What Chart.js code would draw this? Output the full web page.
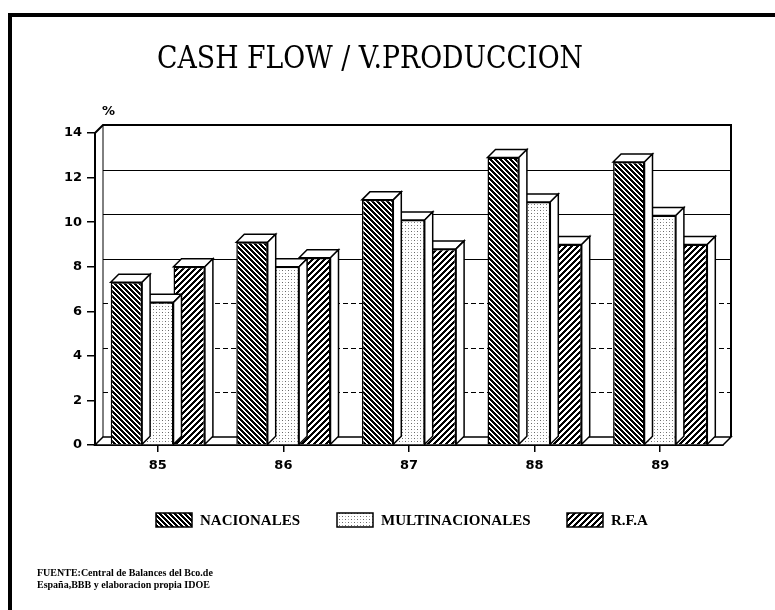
<!DOCTYPE html>
<html>
<head>
<meta charset="utf-8">
<script src="https://cdn.jsdelivr.net/npm/chart.js@4.4.1/dist/chart.umd.min.js"></script>
<style>
  html, body { margin: 0; padding: 0; background: #fff; }
  #wrap { width: 775px; height: 610px; position: relative; }
</style>
</head>
<body>
<div id="wrap"><canvas id="chart" width="775" height="610"></canvas></div>
<script>
// datos
const years = ['85', '86', '87', '88', '89'];
const nacionales = [7.3, 9.1, 11.0, 12.9, 12.7];
const multinacionales = [6.4, 8.0, 10.1, 10.9, 10.3];
const rfa = [8.0, 8.4, 8.8, 9.0, 9.0];
const yTicks = [0, 2, 4, 6, 8, 10, 12, 14];
const seriesNames = ['NACIONALES', 'MULTINACIONALES', 'R.F.A'];

const DEPTH = 8;

// patrones de relleno (pixel a pixel para que queden nitidos)
function hatch(s, w, forward) {
    const c = document.createElement('canvas');
    c.width = s; c.height = s;
    const g = c.getContext('2d');
    g.fillStyle = '#fff';
    g.fillRect(0, 0, s, s);
    g.fillStyle = '#000';
    for (let y = 0; y < s; y++) {
        for (let x = 0; x < s; x++) {
            const k = forward ? (x + y) % s : ((x - y) % s + s) % s;
            if (k < w) g.fillRect(x, y, 1, 1);
        }
    }
    return g.createPattern(c, 'repeat');
}
function dots() {
    const c = document.createElement('canvas');
    c.width = 6; c.height = 6;
    const g = c.getContext('2d');
    g.fillStyle = '#fff';
    g.fillRect(0, 0, 6, 6);
    g.fillStyle = '#666';
    g.fillRect(0, 0, 1, 1);
    g.fillRect(3, 3, 1, 1);
    g.fillStyle = '#aaa';
    g.fillRect(3, 0, 1, 1);
    g.fillRect(0, 3, 1, 1);
    return g.createPattern(c, 'repeat');
}
const fills = [hatch(5, 3, false), dots(), hatch(6, 3, true)];

// plugin: pared del fondo, suelo y caras 3D
const threeD = {
    id: 'threeD',
    beforeDatasetsDraw(chart) {
        const { ctx, chartArea: a, scales } = chart;
        const d = DEPTH;
        ctx.save();
        // pared del fondo
        ctx.strokeStyle = '#000';
        ctx.lineWidth = 1;
        yTicks.forEach(v => {
            if (v === 0) return;
            const y = Math.round(scales.y.getPixelForValue(v)) - d + 0.5;
            ctx.setLineDash(v < 8 ? [5, 3] : []);
            ctx.beginPath();
            ctx.moveTo(a.left + d, y);
            ctx.lineTo(a.right + d, y);
            ctx.stroke();
        });
        ctx.setLineDash([]);
        ctx.lineWidth = 2;
        ctx.beginPath();
        ctx.moveTo(a.left, a.top);
        ctx.lineTo(a.left + d, a.top - d);
        ctx.lineTo(a.right + d, a.top - d);
        ctx.lineTo(a.right + d, a.bottom - d);
        ctx.stroke();
        ctx.lineWidth = 1;
        ctx.beginPath();
        ctx.moveTo(a.left + d, a.top - d);
        ctx.lineTo(a.left + d, a.bottom - d);
        ctx.stroke();
        // suelo
        ctx.fillStyle = '#fff';
        ctx.lineWidth = 1.5;
        ctx.beginPath();
        ctx.moveTo(a.left, a.bottom);
        ctx.lineTo(a.left + d, a.bottom - d);
        ctx.lineTo(a.right + d, a.bottom - d);
        ctx.lineTo(a.right, a.bottom);
        ctx.closePath();
        ctx.fill();
        ctx.stroke();
        ctx.restore();
    },
    afterDatasetDraw(chart, args) {
        const { ctx } = chart;
        const d = DEPTH;
        const meta = chart.getDatasetMeta(args.index);
        ctx.save();
        ctx.strokeStyle = '#000';
        ctx.lineWidth = 1.5;
        ctx.fillStyle = '#fff';
        meta.data.forEach(bar => {
            const p = bar.getProps(['x', 'y', 'base', 'width'], true);
            const l = p.x - p.width / 2, r = p.x + p.width / 2;
            // cara superior
            ctx.beginPath();
            ctx.moveTo(l, p.y);
            ctx.lineTo(l + d, p.y - d);
            ctx.lineTo(r + d, p.y - d);
            ctx.lineTo(r, p.y);
            ctx.closePath();
            ctx.fill(); ctx.stroke();
            // cara lateral
            ctx.beginPath();
            ctx.moveTo(r, p.y);
            ctx.lineTo(r + d, p.y - d);
            ctx.lineTo(r + d, p.base - d);
            ctx.lineTo(r, p.base);
            ctx.closePath();
            ctx.fill(); ctx.stroke();
        });
        ctx.restore();
    }
};

// plugin: titulo, leyenda, fuente y marco
const decor = {
    id: 'decor',
    beforeDraw(chart) {
        const { ctx } = chart;
        ctx.save();
        ctx.fillStyle = '#fff';
        ctx.fillRect(0, 0, chart.width, chart.height);
        ctx.restore();
    },
    afterDraw(chart) {
        const { ctx } = chart;
        ctx.save();
        // marco
        ctx.strokeStyle = '#000';
        ctx.lineWidth = 4;
        ctx.beginPath();
        ctx.moveTo(10, 610);
        ctx.lineTo(10, 15);
        ctx.lineTo(775, 15);
        ctx.stroke();
        // titulo
        ctx.fillStyle = '#000';
        ctx.textBaseline = 'alphabetic';
        ctx.textAlign = 'left';
        ctx.font = '31px "DejaVu Serif", "Liberation Serif", serif';
        ctx.fillText('CASH FLOW / V.PRODUCCION', 157, 68, 426);
        // simbolo %
        ctx.font = 'bold 13px "DejaVu Sans", sans-serif';
        ctx.fillText('%', 102, 115);
        // leyenda
        const sw = [156, 337, 567];
        const tw = [103, 150, 42];
        ctx.font = 'bold 15px "Liberation Serif", serif';
        ctx.textBaseline = 'middle';
        seriesNames.forEach((name, i) => {
            ctx.fillStyle = fills[i];
            ctx.fillRect(sw[i], 513, 36, 14);
            ctx.lineWidth = 1.5;
            ctx.strokeRect(sw[i], 513, 36, 14);
            ctx.fillStyle = '#000';
            ctx.fillText(name, sw[i] + 44, 521, tw[i]);
        });
        // fuente
        ctx.font = 'bold 10px "Liberation Serif", serif';
        ctx.textBaseline = 'alphabetic';
        ctx.fillText('FUENTE:Central de Balances del Bco.de', 37, 576, 232);
        ctx.fillText('España,BBB y elaboracion propia IDOE', 37, 588, 232);
        ctx.restore();
    }
};

const ctx = document.getElementById('chart').getContext('2d');
const chart = new Chart(ctx, {
    type: 'bar',
    data: {
        labels: years,
        datasets: [nacionales, multinacionales, rfa].map((vals, i) => ({
            label: seriesNames[i],
            data: vals,
            backgroundColor: fills[i],
            borderColor: '#000',
            borderWidth: 1.5,
            borderSkipped: 'bottom',
            categoryPercentage: 0.75,
            barPercentage: 1.0
        }))
    },
    options: {
        responsive: false,
        animation: false,
        layout: { padding: { top: 133, right: 52, left: 0, bottom: 0 } },
        plugins: {
            legend: { display: false },
            tooltip: { enabled: false },
            title: { display: false }
        },
        scales: {
            x: {
                afterFit(scale) { scale.height = 165; },
                grid: {
                    offset: false,
                    drawOnChartArea: false,
                    drawTicks: true,
                    tickLength: 7,
                    color: '#000',
                    lineWidth: 1.5
                },
                border: { display: true, color: '#000', width: 2 },
                ticks: {
                    padding: 6,
                    color: '#000',
                    font: { family: '"DejaVu Sans", sans-serif', weight: 'bold', size: 13 }
                }
            },
            y: {
                min: 0,
                max: 14,
                afterFit(scale) { scale.width = 95; },
                afterBuildTicks(scale) { scale.ticks = yTicks.map(v => ({ value: v })); },
                grid: {
                    drawOnChartArea: false,
                    drawTicks: true,
                    tickLength: 8,
                    color: '#000',
                    lineWidth: 1.5
                },
                border: { display: true, color: '#000', width: 2 },
                ticks: {
                    padding: 5,
                    color: '#000',
                    font: { family: '"DejaVu Sans", sans-serif', weight: 'bold', size: 13 }
                }
            }
        }
    },
    plugins: [decor, threeD]
});
</script>
</body>
</html>
